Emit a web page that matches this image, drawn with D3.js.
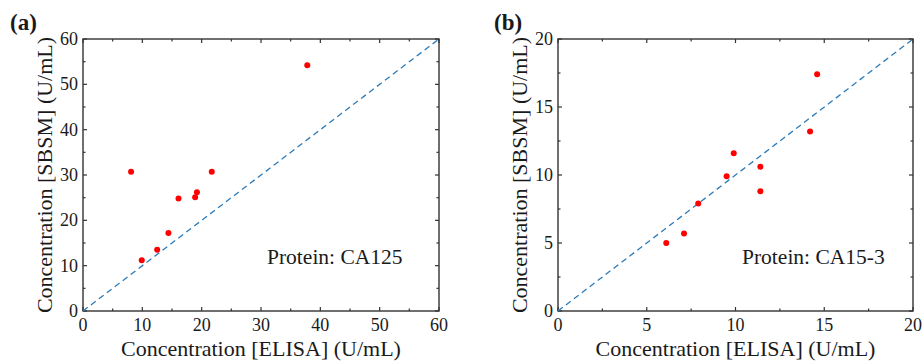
<!DOCTYPE html>
<html><head><meta charset="utf-8">
<script src="https://cdn.jsdelivr.net/npm/d3@7"></script>
<style>body{margin:0;background:#fff}svg{display:block}text{font-family:"Liberation Serif","Times New Roman",serif;fill:#1a1a1a}</style>
</head><body><svg id="c" width="923" height="363"></svg>
<script>
// Panel (a) CA125
const elisaA = [8.1, 9.9, 12.5, 14.4, 16.1, 18.9, 19.2, 21.7, 37.8];
const sbsmA  = [30.7, 11.2, 13.5, 17.2, 24.8, 25.1, 26.2, 30.7, 54.2];
const ticksA = [0, 10, 20, 30, 40, 50, 60];
// Panel (b) CA15-3
const elisaB = [6.1, 7.1, 7.9, 9.5, 9.9, 11.4, 11.4, 14.2, 14.6];
const sbsmB  = [5.0, 5.7, 7.9, 9.9, 11.6, 10.6, 8.8, 13.2, 17.4];
const ticksB = [0, 5, 10, 15, 20];

const svg = d3.select("#c");
const panels = [
  {label:"(a)", lx:10, protein:"Protein: CA125", xs:elisaA, ys:sbsmA, ticks:ticksA, max:60, minor:5, x0:83, x1:439, ylx:52},
  {label:"(b)", lx:494, protein:"Protein: CA15-3", xs:elisaB, ys:sbsmB, ticks:ticksB, max:20, minor:2.5, x0:558, x1:913, ylx:527}
];
const plotTop = 39, plotBot = 311;
panels.forEach(p => {
  const x = d3.scaleLinear().domain([0, p.max]).range([p.x0, p.x1]);
  const y = d3.scaleLinear().domain([0, p.max]).range([plotBot, plotTop]);
  const g = svg.append("g");
  const minors = d3.range(0, p.max + 0.001, p.minor).filter(v => !p.ticks.includes(v));
  const stroke = "#333";
  const addTicks = (vals, len) => {
    vals.forEach(v => {
      g.append("line").attr("x1", x(v)).attr("x2", x(v)).attr("y1", plotBot).attr("y2", plotBot - len).attr("stroke", stroke).attr("stroke-width", 1.2);
      g.append("line").attr("x1", x(v)).attr("x2", x(v)).attr("y1", plotTop).attr("y2", plotTop + len).attr("stroke", stroke).attr("stroke-width", 1.2);
      g.append("line").attr("y1", y(v)).attr("y2", y(v)).attr("x1", p.x0).attr("x2", p.x0 + len).attr("stroke", stroke).attr("stroke-width", 1.2);
      g.append("line").attr("y1", y(v)).attr("y2", y(v)).attr("x1", p.x1).attr("x2", p.x1 - len).attr("stroke", stroke).attr("stroke-width", 1.2);
    });
  };
  addTicks(p.ticks, 4);
  addTicks(minors, 2.5);
  g.append("rect").attr("x", p.x0).attr("y", plotTop).attr("width", p.x1 - p.x0).attr("height", plotBot - plotTop)
    .attr("fill", "none").attr("stroke", stroke).attr("stroke-width", 1.4);
  p.ticks.forEach(v => {
    g.append("text").attr("x", x(v)).attr("y", plotBot + 20).attr("text-anchor", "middle").attr("font-size", 18).text(v);
    g.append("text").attr("x", p.x0 - 5).attr("y", y(v) + 6).attr("text-anchor", "end").attr("font-size", 18).text(v);
  });
  g.append("line").attr("x1", x(0)).attr("y1", y(0)).attr("x2", x(p.max)).attr("y2", y(p.max))
    .attr("stroke", "#2b7bba").attr("stroke-width", 1.3).attr("stroke-dasharray", "6,4");
  g.selectAll("circle.pt").data(p.xs.map((v, i) => [v, p.ys[i]])).enter().append("circle")
    .attr("cx", d => x(d[0])).attr("cy", d => y(d[1])).attr("r", 3).attr("fill", "#ff0000");
  g.append("text").attr("x", (p.x0 + p.x1) / 2).attr("y", 356).attr("text-anchor", "middle").attr("font-size", 22)
    .text("Concentration [ELISA] (U/mL)");
  g.append("text").attr("transform", `translate(${p.ylx},${(plotTop + plotBot) / 2}) rotate(-90)`)
    .attr("text-anchor", "middle").attr("font-size", 22).text("Concentration [SBSM] (U/mL)");
  g.append("text").attr("x", p.x0 + 184).attr("y", 264).attr("font-size", 21.5).text(p.protein);
  g.append("text").attr("x", p.lx).attr("y", 30).attr("font-size", 23).attr("font-weight", "bold").text(p.label);
});
</script></body></html>
